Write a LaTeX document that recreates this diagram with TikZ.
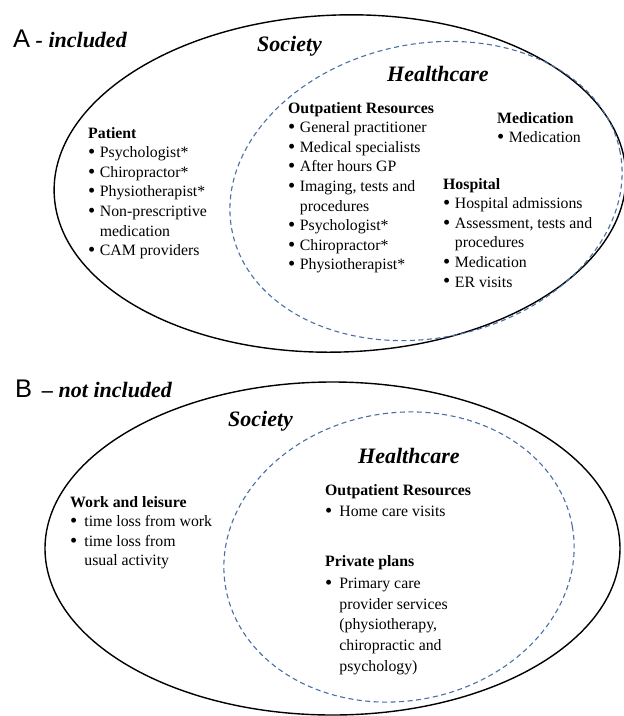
\documentclass[tikz,border=0pt]{standalone}
\usepackage{fontspec}
\setmainfont{Liberation Serif}
\newfontfamily\labelsans{Liberation Sans}
\definecolor{dashblue}{HTML}{4A6FA5}
\newcommand\bigbul{\raisebox{-0.9pt}{\scalebox{1.3}{\textbullet}}}
\begin{document}
\begin{tikzpicture}[x=1pt,y=-1pt,
  society/.style={draw=black, line width=1.4pt},
  health/.style={draw=dashblue, line width=1.1pt, dash pattern=on 5pt off 3.5pt},
  heading/.style={font=\fontsize{22}{26}\selectfont\bfseries\itshape, inner sep=0, anchor=base west},
  panel/.style={inner sep=0, anchor=base west, font=\fontsize{22}{26}\selectfont},
  block/.style={inner sep=0, anchor=base west, font=\fontsize{15.8}{19.6}\selectfont},
  blockwide/.style={inner sep=0, anchor=base west, font=\fontsize{15.8}{20.8}\selectfont}]
\useasboundingbox (0,0) rectangle (624,716);
\clip (0,0) rectangle (624,716);

% ---------- Panel A ----------
\draw[society, rotate around={2:(340,183.5)}] (340,183.5) ellipse [x radius=286, y radius=168.5];
\draw[health, rotate around={12:(426,191)}] (426,191) ellipse [x radius=198, y radius=147];

\node[panel] (labA) at (13,47) {{\labelsans\fontsize{25.5}{28}\selectfont A} {\bfseries\itshape - included}};
\node[heading] (socA) at (257,51) {Society};
\node[heading] (hcA) at (387,81) {Healthcare};

\node[block] (patA) at (88,138) {\begin{tabular}[t]{@{}l@{\hspace{4.5pt}}l@{}}
\multicolumn{2}{@{}l@{}}{\bfseries Patient}\\
\bigbul & Psychologist*\\
\bigbul & Chiropractor*\\
\bigbul & Physiotherapist*\\
\bigbul & Non-prescriptive\\
 & medication\\
\bigbul & CAM providers
\end{tabular}};

\node[block] (outA) at (288,113) {\begin{tabular}[t]{@{}l@{\hspace{4.5pt}}l@{}}
\multicolumn{2}{@{}l@{}}{\bfseries Outpatient Resources}\\
\bigbul & General practitioner\\
\bigbul & Medical specialists\\
\bigbul & After hours GP\\
\bigbul & Imaging, tests and\\
 & procedures\\
\bigbul & Psychologist*\\
\bigbul & Chiropractor*\\
\bigbul & Physiotherapist*
\end{tabular}};

\node[block] (medA) at (497,123) {\begin{tabular}[t]{@{}l@{\hspace{4.5pt}}l@{}}
\multicolumn{2}{@{}l@{}}{\bfseries Medication}\\
\bigbul & Medication
\end{tabular}};

\node[block] (hosA) at (443,189) {\begin{tabular}[t]{@{}l@{\hspace{4.5pt}}l@{}}
\multicolumn{2}{@{}l@{}}{\bfseries Hospital}\\
\bigbul & Hospital admissions\\
\bigbul & Assessment, tests and\\
 & procedures\\
\bigbul & Medication\\
\bigbul & ER visits
\end{tabular}};

% ---------- Panel B ----------
\draw[society] (332.5,548.5) ellipse [x radius=287.5, y radius=166.5];
\draw[health, rotate around={10:(399,557)}] (399,557) ellipse [x radius=176, y radius=144];

\node[panel] (labB) at (15,397) {{\labelsans\fontsize{25.5}{28}\selectfont B}\hspace{10pt}{\bfseries\itshape -- not included}};
\node[heading] (socB) at (228,426) {Society};
\node[heading] (hcB) at (358,463) {Healthcare};

\node[block] (workB) at (70,507) {\begin{tabular}[t]{@{}l@{\hspace{7pt}}l@{}}
\multicolumn{2}{@{}l@{}}{\bfseries Work and leisure}\\
\bigbul & time loss from work\\
\bigbul & time loss from\\
 & usual activity
\end{tabular}};

\node[block] (outB) at (325,495) {\begin{tabular}[t]{@{}l@{\hspace{7pt}}l@{}}
\multicolumn{2}{@{}l@{}}{\bfseries Outpatient Resources}\\[2pt]
\bigbul & Home care visits
\end{tabular}};

\node[blockwide] (privB) at (325,566) {\begin{tabular}[t]{@{}l@{\hspace{7pt}}l@{}}
\multicolumn{2}{@{}l@{}}{\bfseries Private plans}\\[1.5pt]
\bigbul & Primary care\\
 & provider services\\
 & (physiotherapy,\\
 & chiropractic and\\
 & psychology)
\end{tabular}};
\end{tikzpicture}
\end{document}
